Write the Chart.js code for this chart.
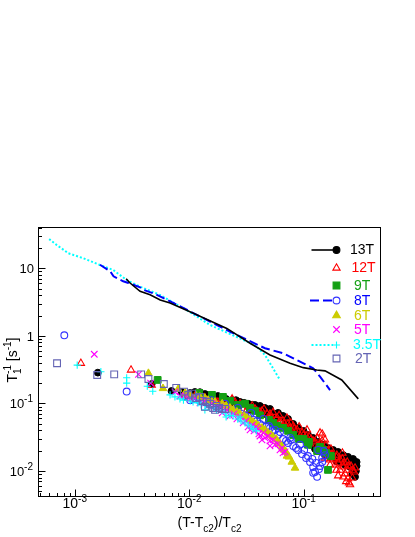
<!DOCTYPE html>
<html><head><meta charset="utf-8">
<script src="https://cdn.jsdelivr.net/npm/chart.js@4/dist/chart.umd.min.js"></script>
<style>html,body{margin:0;padding:0;background:#fff;}#wrap{width:415px;height:537px;}</style>
</head><body><div id="wrap"><canvas id="c" width="415" height="537"></canvas></div>
<script>
// ---- data (x = (T-Tc2)/Tc2, y = 1/T1 [1/s]) ----
const seriesLabels = ['13T','12T','9T','8T','6T','5T','3.5T','2T'];
const xTickValues = [0.001, 0.01, 0.1];
const xTickExps = ['-3','-2','-1'];
const yTickValues = [0.01, 0.1, 1, 10];
const yTickBases = ['10','10','1','10'];
const yTickExps = ['-2','-1','',''];

const line13T = [[0.00281,7.0],[0.00304,6.06],[0.00372,4.57],[0.00455,4.06],[0.00558,3.4],[0.0068,3.07],[0.01087,2.16],[0.0213,1.29],[0.034,0.778],[0.0508,0.521],[0.076,0.394],[0.0993,0.339],[0.13,0.313],[0.1536,0.304],[0.215,0.223],[0.3,0.117]];
const line8T = [[0.00166,11.3],[0.00204,9.03],[0.00218,7.62],[0.00265,6.43],[0.00294,6.07],[0.00372,5.24],[0.00397,4.82],[0.00502,4.17],[0.00682,3.25],[0.0228,1.15],[0.0459,0.656],[0.0664,0.553],[0.0929,0.415],[0.121,0.332],[0.139,0.249],[0.170,0.158]];
const line35T = [[0.000597,27.1],[0.000697,22.1],[0.00088,16.7],[0.00119,14.1],[0.00166,11.2],[0.00217,9.44],[0.00284,6.71],[0.00372,5.35],[0.00556,4.03],[0.0095,2.41],[0.0152,1.45],[0.034,0.785],[0.0389,0.692],[0.0459,0.521],[0.0508,0.394],[0.0562,0.295],[0.0621,0.223]];

const pts13T = [[0.00159,0.286],[0.0047,0.194],[0.0070,0.153],[0.0086,0.148],[0.0102,0.143],[0.0112,0.148],[0.0124,0.147],[0.01374,0.138],[0.0143,0.129],[0.0152,0.134],[0.0168,0.125],[0.0178,0.129],[0.0194,0.125],[0.021,0.1166],[0.0227,0.0985],[0.0237,0.112],[0.0256,0.112],[0.0278,0.1053],[0.0302,0.102],[0.0327,0.099],[0.034,0.0804],[0.0355,0.0951],[0.0376,0.0951],[0.0415,0.092],[0.0432,0.0858],[0.0459,0.0858],[0.0459,0.070],[0.0488,0.0804],[0.0508,0.083],[0.0551,0.070],[0.0562,0.057],[0.0562,0.0632],[0.0597,0.0726],[0.0621,0.0654],[0.066,0.0654],[0.0687,0.057],[0.0687,0.0465],[0.073,0.059],[0.076,0.0515],[0.076,0.042],[0.081,0.0498],[0.084,0.0435],[0.084,0.0379],[0.0895,0.0435],[0.0929,0.0379],[0.0929,0.032],[0.0996,0.0393],[0.1028,0.032],[0.1028,0.0289],[0.109,0.0342],[0.1136,0.0289],[0.1136,0.0245],[0.121,0.0309],[0.1256,0.0252],[0.1256,0.0212],[0.134,0.027],[0.139,0.0228],[0.139,0.0198],[0.148,0.0245],[0.1536,0.0205],[0.1536,0.0172],[0.163,0.022],[0.170,0.0192],[0.170,0.0162],[0.181,0.0205],[0.188,0.0178],[0.193,0.014],[0.20,0.0192],[0.208,0.0167],[0.208,0.0136],[0.222,0.0172],[0.230,0.0156],[0.230,0.0123],[0.244,0.0162],[0.254,0.0146],[0.254,0.0115],[0.27,0.0151],[0.281,0.0136],[0.29,0.0136],[0.29,0.0119],[0.286,0.0100],[0.281,0.0082],[0.266,0.0091]];
const pts12T = [[0.00113,0.394],[0.0031,0.313],[0.0047,0.187],[0.0092,0.134],[0.0098,0.120],[0.0112,0.129],[0.0119,0.138],[0.0131,0.112],[0.0137,0.121],[0.0158,0.129],[0.0168,0.112],[0.0178,0.1053],[0.0194,0.1166],[0.0206,0.109],[0.0219,0.099],[0.0237,0.117],[0.0251,0.1053],[0.0266,0.089],[0.0278,0.099],[0.0302,0.0951],[0.032,0.0804],[0.0327,0.089],[0.0355,0.092],[0.0376,0.083],[0.039,0.0775],[0.0415,0.075],[0.0432,0.0775],[0.045,0.083],[0.048,0.070],[0.0508,0.070],[0.0508,0.0654],[0.054,0.074],[0.0575,0.059],[0.0587,0.061],[0.061,0.0667],[0.0621,0.055],[0.066,0.055],[0.0675,0.0498],[0.0714,0.061],[0.073,0.0498],[0.076,0.0435],[0.0773,0.0515],[0.081,0.0465],[0.0826,0.042],[0.0876,0.0406],[0.0912,0.0452],[0.0929,0.033],[0.0967,0.0367],[0.0996,0.0342],[0.105,0.033],[0.107,0.0406],[0.1115,0.032],[0.1136,0.0252],[0.116,0.0298],[0.121,0.0279],[0.1256,0.027],[0.131,0.0309],[0.134,0.0235],[0.139,0.0252],[0.139,0.019],[0.139,0.0367],[0.145,0.0354],[0.145,0.0212],[0.145,0.0279],[0.150,0.022],[0.1536,0.0289],[0.1536,0.0156],[0.1565,0.0245],[0.160,0.0172],[0.163,0.0198],[0.170,0.0146],[0.170,0.0123],[0.173,0.0212],[0.177,0.0178],[0.181,0.0151],[0.188,0.0123],[0.193,0.016],[0.193,0.0103],[0.195,0.0172],[0.20,0.0085],[0.20,0.0132],[0.208,0.0146],[0.208,0.0103],[0.218,0.0185],[0.218,0.0151],[0.222,0.0115],[0.222,0.0082],[0.225,0.0132],[0.230,0.0091],[0.235,0.007],[0.240,0.0136],[0.240,0.0103],[0.244,0.0119],[0.244,0.0077],[0.249,0.0067],[0.254,0.0063],[0.259,0.0119],[0.266,0.0103],[0.266,0.0079],[0.276,0.0097],[0.281,0.0111]];
const pts9T = [[0.0053,0.223],[0.0122,0.143],[0.0158,0.134],[0.0197,0.125],[0.0227,0.109],[0.0266,0.0951],[0.0307,0.099],[0.034,0.0858],[0.0376,0.0775],[0.0415,0.0667],[0.0497,0.057],[0.054,0.0515],[0.0587,0.0465],[0.066,0.0435],[0.0731,0.0393],[0.081,0.0342],[0.091,0.0298],[0.0996,0.0298],[0.109,0.0245],[0.111,0.027],[0.131,0.0198],[0.139,0.0228],[0.148,0.0205],[0.1565,0.0185],[0.163,0.0104],[0.173,0.0167]];
const pts8T = [[0.00081,1.02],[0.00284,0.15],[0.0092,0.129],[0.0102,0.112],[0.0108,0.1166],[0.0118,0.125],[0.0124,0.109],[0.0134,0.1053],[0.0143,0.102],[0.0155,0.112],[0.0164,0.0951],[0.0178,0.092],[0.019,0.089],[0.0206,0.099],[0.0219,0.083],[0.0237,0.0804],[0.0251,0.0775],[0.0266,0.0858],[0.0287,0.070],[0.0307,0.0667],[0.0327,0.0632],[0.0347,0.0726],[0.0368,0.057],[0.039,0.055],[0.0415,0.0498],[0.0445,0.059],[0.0469,0.0452],[0.0497,0.0465],[0.0508,0.0435],[0.053,0.0393],[0.0562,0.0406],[0.0597,0.0342],[0.0621,0.0379],[0.066,0.0298],[0.0701,0.0279],[0.073,0.026],[0.076,0.0309],[0.0773,0.0289],[0.081,0.0235],[0.0857,0.022],[0.0895,0.0205],[0.0929,0.0245],[0.0967,0.0178],[0.101,0.0205],[0.105,0.0156],[0.109,0.0167],[0.1136,0.0136],[0.119,0.0151],[0.121,0.0115],[0.121,0.0094],[0.1256,0.0097],[0.128,0.0132],[0.131,0.0082],[0.134,0.0205],[0.136,0.0107],[0.139,0.0119],[0.145,0.0156],[0.145,0.0136],[0.150,0.0198],[0.1536,0.0172]];
const pts6T = [[0.0044,0.28],[0.0059,0.167],[0.008,0.163],[0.0092,0.143],[0.0102,0.134],[0.0115,0.129],[0.0124,0.125],[0.0137,0.1205],[0.0146,0.112],[0.0158,0.1053],[0.0168,0.1053],[0.0194,0.099],[0.021,0.092],[0.0227,0.0858],[0.0242,0.0804],[0.0261,0.075],[0.0278,0.070],[0.0302,0.0654],[0.032,0.061],[0.034,0.057],[0.0361,0.0532],[0.0385,0.0498],[0.0403,0.0465],[0.0432,0.0435],[0.0459,0.0406],[0.0488,0.0367],[0.0519,0.0342],[0.054,0.032],[0.0575,0.0298],[0.0597,0.027],[0.0621,0.0252],[0.0647,0.0228],[0.0675,0.0205],[0.07,0.0192],[0.0714,0.0167],[0.0744,0.0162],[0.0787,0.0136],[0.084,0.0111]];
const pts5T = [[0.00148,0.535],[0.0036,0.27],[0.0046,0.2],[0.0075,0.148],[0.0083,0.129],[0.0092,0.129],[0.0102,0.1166],[0.0112,0.121],[0.0124,0.102],[0.0137,0.109],[0.0146,0.092],[0.0159,0.099],[0.0168,0.083],[0.0186,0.089],[0.0194,0.0726],[0.0213,0.0804],[0.0227,0.0654],[0.0246,0.070],[0.0261,0.059],[0.0278,0.0632],[0.0296,0.0515],[0.0313,0.055],[0.0327,0.0452],[0.034,0.0406],[0.0355,0.048],[0.0368,0.0393],[0.0385,0.0452],[0.0398,0.042],[0.0406,0.0355],[0.0415,0.033],[0.0432,0.0289],[0.0445,0.0367],[0.0459,0.0309],[0.0488,0.033],[0.0508,0.0279],[0.0508,0.0235],[0.054,0.0289],[0.0562,0.0245],[0.0597,0.0252],[0.0621,0.0205],[0.0647,0.0219],[0.066,0.0185],[0.0687,0.0192]];
const pts35T = [[0.00105,0.37],[0.00169,0.295],[0.00284,0.24],[0.00284,0.2],[0.0043,0.18],[0.0048,0.152],[0.0068,0.134],[0.0075,0.125],[0.0083,0.117],[0.0089,0.112],[0.0102,0.109],[0.0108,0.1053],[0.0119,0.102],[0.0127,0.0951],[0.0137,0.0804],[0.014,0.0951],[0.0149,0.089],[0.0164,0.0858],[0.0173,0.0804],[0.0194,0.0775],[0.0206,0.0726],[0.021,0.0632],[0.0227,0.0667],[0.0242,0.0654],[0.0266,0.0588],[0.0278,0.0632],[0.0283,0.055],[0.0307,0.0515],[0.0327,0.048],[0.0347,0.0452],[0.0361,0.042],[0.0385,0.0393]];
const pts2T = [[0.0007,0.394],[0.00157,0.264],[0.00221,0.27],[0.0038,0.27],[0.0044,0.23],[0.0060,0.194],[0.0077,0.17],[0.009,0.15],[0.0098,0.134],[0.0106,0.14],[0.0115,0.1205],[0.0124,0.125],[0.0131,0.109],[0.0137,0.089],[0.0143,0.1053],[0.0152,0.099],[0.0162,0.0858],[0.0168,0.0804],[0.0173,0.092],[0.0182,0.0858],[0.0194,0.083],[0.0206,0.083]];

// ---- styles ----
const FONT = '"Liberation Sans", Arial, Helvetica, sans-serif';
const C = {k:'#000000', r:'#ff0000', g:'#14a014', b:'#0000ff', bc:'#3333ff', y:'#cccc00', m:'#ff00ff', c:'#00ffff', s:'#6464b4'};

const toXY = a => a.map(p => ({x:p[0], y:p[1]}));
function ptsDs(label, data, style, r, fill, stroke, order, bw) {
  return {label, data: toXY(data), pointStyle: style, pointRadius: r, pointHoverRadius: r,
    backgroundColor: fill || 'rgba(0,0,0,0)', borderColor: stroke || fill, pointBorderWidth: bw || 1, borderWidth: bw || 1, order, showLine:false};
}
function lineDs(label, data, color, width, dash) {
  return {label, data: toXY(data), showLine:true, pointRadius:0, borderColor:color, borderWidth:width, borderDash:dash, fill:false, tension:0, order:0};
}
const datasets = [
  ptsDs('13T', pts13T, 'circle', 3.4, C.k, C.k, 8, 1),
  ptsDs('12T', pts12T, 'triangle', 4.2, null, C.r, 7, 1.1),
  ptsDs('9T', pts9T, 'rect', 4.8, C.g, C.g, 6, 1),
  ptsDs('8T', pts8T, 'circle', 3.4, null, C.bc, 5, 1.1),
  ptsDs('6T', pts6T, 'triangle', 4.4, C.y, C.y, 4, 1),
  ptsDs('5T', pts5T, 'crossRot', 4.6, null, C.m, 3, 1.1),
  ptsDs('3.5T', pts35T, 'cross', 3.6, null, C.c, 2, 1.1),
  ptsDs('2T', pts2T, 'rect', 4.8, null, C.s, 1, 1.1),
  lineDs('13T line', line13T, C.k, 1.6, []),
  lineDs('8T line', line8T, C.b, 2, [9,4]),
  lineDs('3.5T line', line35T, C.c, 2, [2,2]),
];

function drawMarker(ctx, style, x, y, r, fill, stroke) {
  ctx.beginPath();
  if (style === 'circle') ctx.arc(x, y, r, 0, 2*Math.PI);
  else if (style === 'triangle') { ctx.moveTo(x, y - r); ctx.lineTo(x + r*0.866, y + r*0.5); ctx.lineTo(x - r*0.866, y + r*0.5); ctx.closePath(); }
  else if (style === 'rect') { const s = r*Math.SQRT1_2; ctx.rect(x-s, y-s, 2*s, 2*s); }
  else if (style === 'cross') { ctx.moveTo(x, y-r); ctx.lineTo(x, y+r); ctx.moveTo(x-r, y); ctx.lineTo(x+r, y); }
  else if (style === 'crossRot') { const d = r*Math.SQRT1_2; ctx.moveTo(x-d, y-d); ctx.lineTo(x+d, y+d); ctx.moveTo(x+d, y-d); ctx.lineTo(x-d, y+d); }
  if (fill) { ctx.fillStyle = fill; ctx.fill(); }
  if (stroke) { ctx.strokeStyle = stroke; ctx.lineWidth = 1.1; ctx.setLineDash([]); ctx.stroke(); }
}

// legend layout
const legendRows = [250, 268, 285.5, 300.5, 315.5, 329.5, 345, 358.5];
const legendTextX = [350, 351.5, 354, 354, 354, 354, 353, 355];
const legendColors = [C.k, C.r, C.g, C.b, C.y, C.m, C.c, C.s];
const legendMarkers = [['circle',3.4,C.k,C.k],['triangle',4.2,null,C.r],['rect',4.8,C.g,C.g],['circle',3.4,null,C.bc],['triangle',4.4,C.y,C.y],['crossRot',4.6,null,C.m],['cross',3.6,null,C.c],['rect',4.8,null,C.s]];
const legendLines = {0:[C.k,1.6,[],311.5,336], 3:[C.b,2,[9,4],310,333], 6:[C.c,2,[2,2],311.5,333]};

const rootStyle = {
  id: 'rootStyle',
  afterDraw(chart) {
    const ctx = chart.ctx, a = chart.chartArea, xs = chart.scales.x, ys = chart.scales.y;
    ctx.save();
    ctx.setLineDash([]);
    ctx.strokeStyle = '#000'; ctx.lineWidth = 1;
    const L = Math.round(a.left)+0.5, R = Math.round(a.right)+0.5, T = Math.round(a.top)+0.5, B = Math.round(a.bottom)+0.5;
    ctx.strokeRect(L, T, R-L, B-T);
    ctx.beginPath();
    for (let e = -4; e <= 1; e++) for (let m = 1; m <= 9; m++) {
      const v = m*Math.pow(10, e);
      if (v >= xs.min && v <= xs.max) {
        const px = Math.round(xs.getPixelForValue(v)) + 0.5;
        ctx.moveTo(px, B); ctx.lineTo(px, B - (m === 1 ? 7 : 3.5));
      }
    }
    for (let e = -3; e <= 2; e++) for (let m = 1; m <= 9; m++) {
      const v = m*Math.pow(10, e);
      if (v >= ys.min && v <= ys.max) {
        const py = Math.round(ys.getPixelForValue(v)) + 0.5;
        ctx.moveTo(L, py); ctx.lineTo(L + (m === 1 ? 7 : 3.5), py);
      }
    }
    ctx.stroke();

    ctx.fillStyle = '#000';
    ctx.textBaseline = 'alphabetic';
    // x tick labels
    xTickValues.forEach((v, i) => {
      const px = xs.getPixelForValue(v);
      ctx.font = '14px ' + FONT; const wb = ctx.measureText('10').width;
      ctx.font = '10px ' + FONT; const we = ctx.measureText(xTickExps[i]).width;
      const x0 = px - (wb + we)/2;
      ctx.font = '14px ' + FONT; ctx.textAlign = 'left'; ctx.fillText('10', x0, 508);
      ctx.font = '10px ' + FONT; ctx.fillText(xTickExps[i], x0 + wb, 502);
    });
    // y tick labels
    yTickValues.forEach((v, i) => {
      const py = ys.getPixelForValue(v);
      ctx.font = '13px ' + FONT; const wb = ctx.measureText(yTickBases[i]).width;
      ctx.font = '10px ' + FONT; const we = yTickExps[i] ? ctx.measureText(yTickExps[i]).width : 0;
      const right = yTickExps[i] ? 33 : 34;
      const x0 = right - wb - we;
      ctx.textAlign = 'left';
      ctx.font = '13px ' + FONT; ctx.fillText(yTickBases[i], x0, py + 4.7);
      if (yTickExps[i]) { ctx.font = '10px ' + FONT; ctx.fillText(yTickExps[i], x0 + wb, py - 1); }
    });
    // x title  (T-T_c2)/T_c2
    const xParts = [['(T-T',14,0],['c2',10,5],[')/T',14,0],['c2',10,5]];
    let tw = 0; xParts.forEach(p => { ctx.font = p[1]+'px '+FONT; tw += ctx.measureText(p[0]).width; });
    let cx = 209.5 - tw/2;
    xParts.forEach(p => { ctx.font = p[1]+'px '+FONT; ctx.fillText(p[0], cx, 526.5 + p[2]); cx += ctx.measureText(p[0]).width; });
    // y title  T_1^-1 [s^-1]
    ctx.save();
    ctx.translate(17, 360); ctx.rotate(-Math.PI/2);
    ctx.font = '14px ' + FONT; const wT = ctx.measureText('T').width; const wS = ctx.measureText(' [s').width; const wB = ctx.measureText(']').width;
    ctx.font = '10px ' + FONT; const w1 = ctx.measureText('1').width; const wm1 = ctx.measureText('-1').width;
    const total = wT + Math.max(w1, wm1) + wS + wm1 + wB;
    let yx = -total/2;
    ctx.font = '14px ' + FONT; ctx.fillText('T', yx, 0); yx += wT;
    ctx.font = '10px ' + FONT; ctx.fillText('1', yx, 4); ctx.fillText('-1', yx, -6); yx += Math.max(w1, wm1);
    ctx.font = '14px ' + FONT; ctx.fillText(' [s', yx, 0); yx += wS;
    ctx.font = '10px ' + FONT; ctx.fillText('-1', yx, -6); yx += wm1;
    ctx.font = '14px ' + FONT; ctx.fillText(']', yx, 0);
    ctx.restore();

    // legend
    seriesLabels.forEach((lab, i) => {
      const yy = legendRows[i];
      if (legendLines[i]) {
        const l = legendLines[i];
        ctx.beginPath(); ctx.strokeStyle = l[0]; ctx.lineWidth = l[1]; ctx.setLineDash(l[2]);
        ctx.moveTo(l[3], yy); ctx.lineTo(l[4], yy); ctx.stroke(); ctx.setLineDash([]);
      }
      const mk = legendMarkers[i];
      drawMarker(ctx, mk[0], 336.5, yy, mk[1], mk[2], mk[3]);
      ctx.font = '14px ' + FONT; ctx.textAlign = 'left'; ctx.textBaseline = 'middle';
      ctx.fillStyle = legendColors[i];
      ctx.fillText(lab, legendTextX[i], yy + 0.5);
      ctx.textBaseline = 'alphabetic';
    });
    ctx.restore();
  }
};

new Chart(document.getElementById('c').getContext('2d'), {
  type: 'scatter',
  data: { datasets },
  options: {
    responsive: false, animation: false, devicePixelRatio: 1,
    layout: { padding: { left: 38.3, right: 34.7, top: 227.3, bottom: 41 } },
    plugins: { legend: { display: false }, tooltip: { enabled: false } },
    scales: {
      x: { type: 'logarithmic', min: 4.8e-4, max: 0.467, display: false },
      y: { type: 'logarithmic', min: 0.00427, max: 40.5, display: false }
    }
  },
  plugins: [rootStyle]
});
</script>
</body></html>
